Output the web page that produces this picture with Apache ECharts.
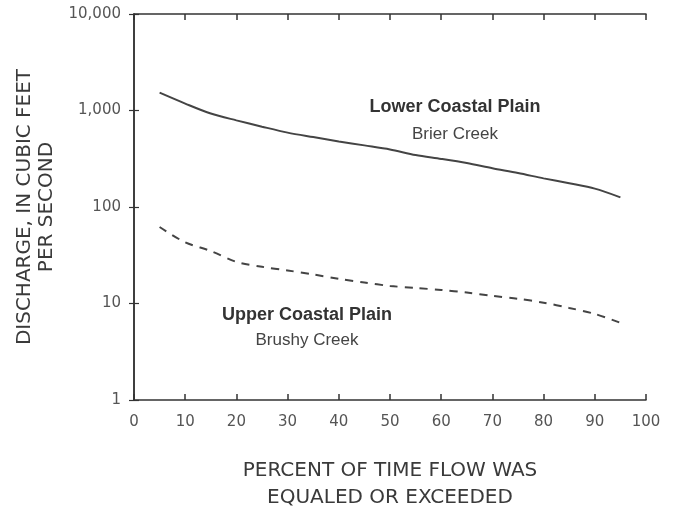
<!DOCTYPE html>
<html>
<head>
<meta charset="utf-8">
<script src="https://cdn.jsdelivr.net/npm/echarts@6/dist/echarts.min.js"></script>
<style>
html,body{margin:0;padding:0;background:#fff;}
#chart{width:678px;height:506px;}
</style>
</head>
<body>
<div id="chart"></div>
<script>
const percentExceeded = [5,10,15,20,25,30,35,40,45,50,55,60,65,70,75,80,85,90,95];
const lowerCoastalBrierCreek = [1530,1180,930,790,680,590,530,478,435,395,345,315,285,252,225,198,176,155,126];
const upperCoastalBrushyCreek = [62,43,35,27,24,22,20,18,16.5,15.2,14.5,13.8,13,12,11.2,10.2,9,7.8,6.3];
const xTickValues = [0,10,20,30,40,50,60,70,80,90,100];
const yTickLabels = ['1','10','100','1,000','10,000'];

const lineColor = '#444';
const textColor = '#555';
const tickFont = 'DejaVu Sans';

const chart = echarts.init(document.getElementById('chart'));
const pair = (xs, ys) => xs.map((x, i) => [x, ys[i]]);

const xCommon = {
  type: 'value', min: 0, max: 100, interval: 10,
  axisLine: { show: true, lineStyle: { color: '#333', width: 1.5 } },
  axisTick: { show: true, inside: true, length: 6, lineStyle: { color: '#333', width: 1.5 } },
  splitLine: { show: false }
};
const yCommon = {
  type: 'log', logBase: 10, min: 1, max: 10000,
  axisLine: { show: true, lineStyle: { color: '#333', width: 1.5 } },
  axisTick: { show: true, inside: true, length: 5, lineStyle: { color: '#333', width: 1.2 } },
  splitLine: { show: false },
  minorTick: { show: false }
};

const annoFont = 'Liberation Sans Narrow, Liberation Sans';

chart.setOption({
  backgroundColor: '#fff',
  animation: false,
  grid: { left: 134, right: 32, top: 14, bottom: 106, containLabel: false, outerBoundsMode: 'none' },
  xAxis: [
    Object.assign({}, xCommon, {
      position: 'bottom',
      name: 'PERCENT OF TIME FLOW WAS\nEQUALED OR EXCEEDED',
      nameLocation: 'middle',
      nameGap: 57,
      nameTextStyle: { fontFamily: tickFont, fontSize: 20, color: '#3a3a3a', lineHeight: 27 },
      axisLabel: {
        margin: 15, fontFamily: tickFont, fontSize: 15, color: textColor,
        formatter: v => xTickValues.includes(v) ? String(v) : ''
      }
    }),
    Object.assign({}, xCommon, { position: 'top', axisLabel: { show: false } })
  ],
  yAxis: [
    Object.assign({}, yCommon, {
      position: 'left',
      name: 'DISCHARGE, IN CUBIC FEET\nPER SECOND',
      nameLocation: 'middle',
      nameGap: 75,
      nameRotate: 90,
      nameTextStyle: { fontFamily: tickFont, fontSize: 20, color: '#3a3a3a', lineHeight: 22 },
      axisLabel: {
        margin: 13, fontFamily: tickFont, fontSize: 15, color: textColor,
        formatter: v => yTickLabels[Math.round(Math.log10(v))]
      }
    }),
    Object.assign({}, yCommon, { position: 'right', axisLabel: { show: false } })
  ],
  series: [
    {
      name: 'Lower Coastal Plain, Brier Creek',
      type: 'line', xAxisIndex: 0, yAxisIndex: 0,
      data: pair(percentExceeded, lowerCoastalBrierCreek),
      smooth: 0.3, showSymbol: false,
      lineStyle: { color: lineColor, width: 2, type: 'solid' }
    },
    {
      name: 'Upper Coastal Plain, Brushy Creek',
      type: 'line', xAxisIndex: 0, yAxisIndex: 0,
      data: pair(percentExceeded, upperCoastalBrushyCreek),
      smooth: 0.3, showSymbol: false,
      lineStyle: { color: lineColor, width: 2, type: [8, 7] }
    }
  ],
  graphic: [
    { type: 'text', position: [455, 107], style: { text: 'Lower Coastal Plain', x: 0, y: 0, align: 'center', verticalAlign: 'middle', font: 'bold 18px ' + annoFont, fill: '#333' } },
    { type: 'text', position: [455, 134], style: { text: 'Brier Creek', x: 0, y: 0, align: 'center', verticalAlign: 'middle', font: '17px ' + annoFont, fill: '#444' } },
    { type: 'text', position: [307, 315], style: { text: 'Upper Coastal Plain', x: 0, y: 0, align: 'center', verticalAlign: 'middle', font: 'bold 18px ' + annoFont, fill: '#333' } },
    { type: 'text', position: [307, 340], style: { text: 'Brushy Creek', x: 0, y: 0, align: 'center', verticalAlign: 'middle', font: '17px ' + annoFont, fill: '#444' } }
  ]
});
</script>
</body>
</html>
